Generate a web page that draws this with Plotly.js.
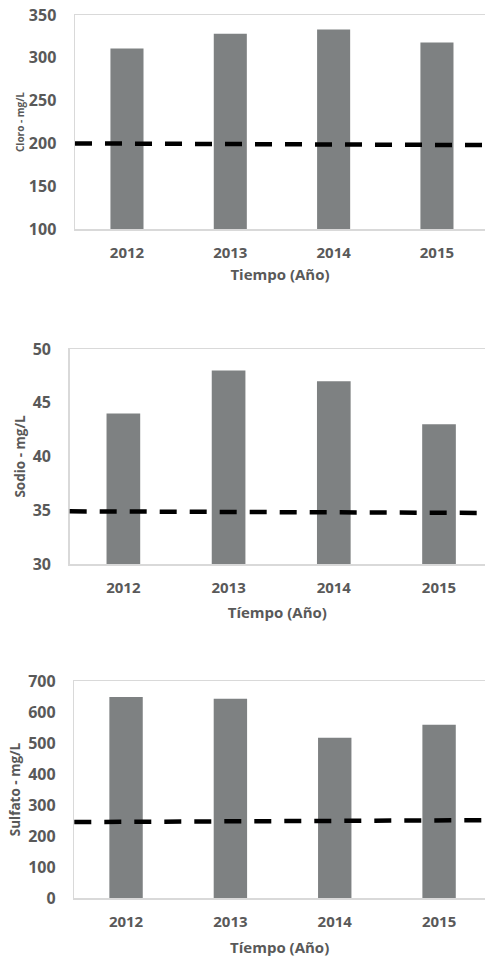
<!DOCTYPE html>
<html>
<head>
<meta charset="utf-8">
<script src="https://cdn.plot.ly/plotly-3.0.1.min.js"></script>
<style>html,body{margin:0;padding:0;overflow:hidden;background:#fff}</style>
</head>
<body>
<div id="chart" style="width:485px;height:957px"></div>
<script>
// Data
var years = ["2012", "2013", "2014", "2015"];
var cloro = [311, 328, 333, 318];
var sodio = [44, 48, 47, 43];
var sulfato = [648, 643, 517, 559];
// reference (limit) line, left end / right end
var cloroLimit = [200, 198];
var sodioLimit = [34.9, 34.75];
var sulfatoLimit = [245, 251];
var yTitles = ["Cloro - mg/L", "Sodio - mg/L", "Sulfato - mg/L"];
var xTitles = ["Tiempo (Año)", "Tíempo (Año)", "Tíempo (Año)"];

var H = 957, W = 485;
var grey = "#595959";
var barColor = "#7e8182";
var frame = "#d9d9d9";
var fontFam = "'Open Sans', sans-serif";

function bar(vals, ax) {
  return {type: "bar", x: years, y: vals, xaxis: "x" + ax, yaxis: "y" + ax,
    marker: {color: barColor}, width: 0.32, hoverinfo: "x+y", showlegend: false};
}
var data = [bar(cloro, ""), bar(sodio, "2"), bar(sulfato, "3")];

function xa(left, range, title, standoff) {
  return {domain: [left / W, 1], type: "category", range: range,
    showline: true, mirror: true, linecolor: frame, linewidth: 1.5,
    showgrid: false, zeroline: false, ticks: "", ticklabelstandoff: 9,
    tickfont: {family: fontFam, size: 15, color: grey, weight: 700},
    title: {text: title, standoff: standoff, font: {family: fontFam, size: 15, color: grey, weight: 700}},
    fixedrange: true};
}
function ya(top, bottom, range, dtick, title, tsize, standoff) {
  return {domain: [1 - bottom / H, 1 - top / H], range: range, dtick: dtick,
    showline: true, mirror: true, linecolor: frame, linewidth: 1.5,
    showgrid: false, zeroline: false, ticks: "", ticklabelstandoff: 14,
    tickfont: {family: fontFam, size: 16, color: grey, weight: 700},
    title: {text: title, standoff: standoff, font: {family: fontFam, size: tsize, color: grey, weight: 700}},
    fixedrange: true};
}

var x1 = xa(75, [-0.503, 3.465], xTitles[0], 9); x1.anchor = "y";
var x2 = xa(69.7, [-0.51, 3.437], xTitles[1], 12); x2.anchor = "y2";
var x3 = xa(74.3, [-0.496, 3.44], xTitles[2], 14); x3.anchor = "y3";
var y1 = ya(15, 229, [100, 350], 50, yTitles[0], 10, 2); y1.anchor = "x";
var y2 = ya(349, 564, [30, 50], 5, yTitles[1], 13.5, 4); y2.anchor = "x2";
var y3 = ya(681, 898, [0, 700], 100, yTitles[2], 13.5, 4); y3.anchor = "x3";

function limitShape(ax, vals) {
  return {type: "line", xref: "x" + ax + " domain", yref: "y" + ax,
    x0: 0, x1: 1, y0: vals[0], y1: vals[1],
    line: {color: "#000", width: 4.5, dash: "17px,13px"}};
}

var layout = {
  width: W, height: H, margin: {l: 0, r: 0, t: 0, b: 0},
  paper_bgcolor: "#fff", plot_bgcolor: "#fff",
  bargap: 0.68, showlegend: false,
  font: {family: fontFam, color: grey},
  xaxis: x1, yaxis: y1, xaxis2: x2, yaxis2: y2, xaxis3: x3, yaxis3: y3,
  shapes: [limitShape("", cloroLimit), limitShape("2", sodioLimit), limitShape("3", sulfatoLimit)]
};

Plotly.newPlot("chart", data, layout, {displayModeBar: false, staticPlot: true});
</script>
</body>
</html>
